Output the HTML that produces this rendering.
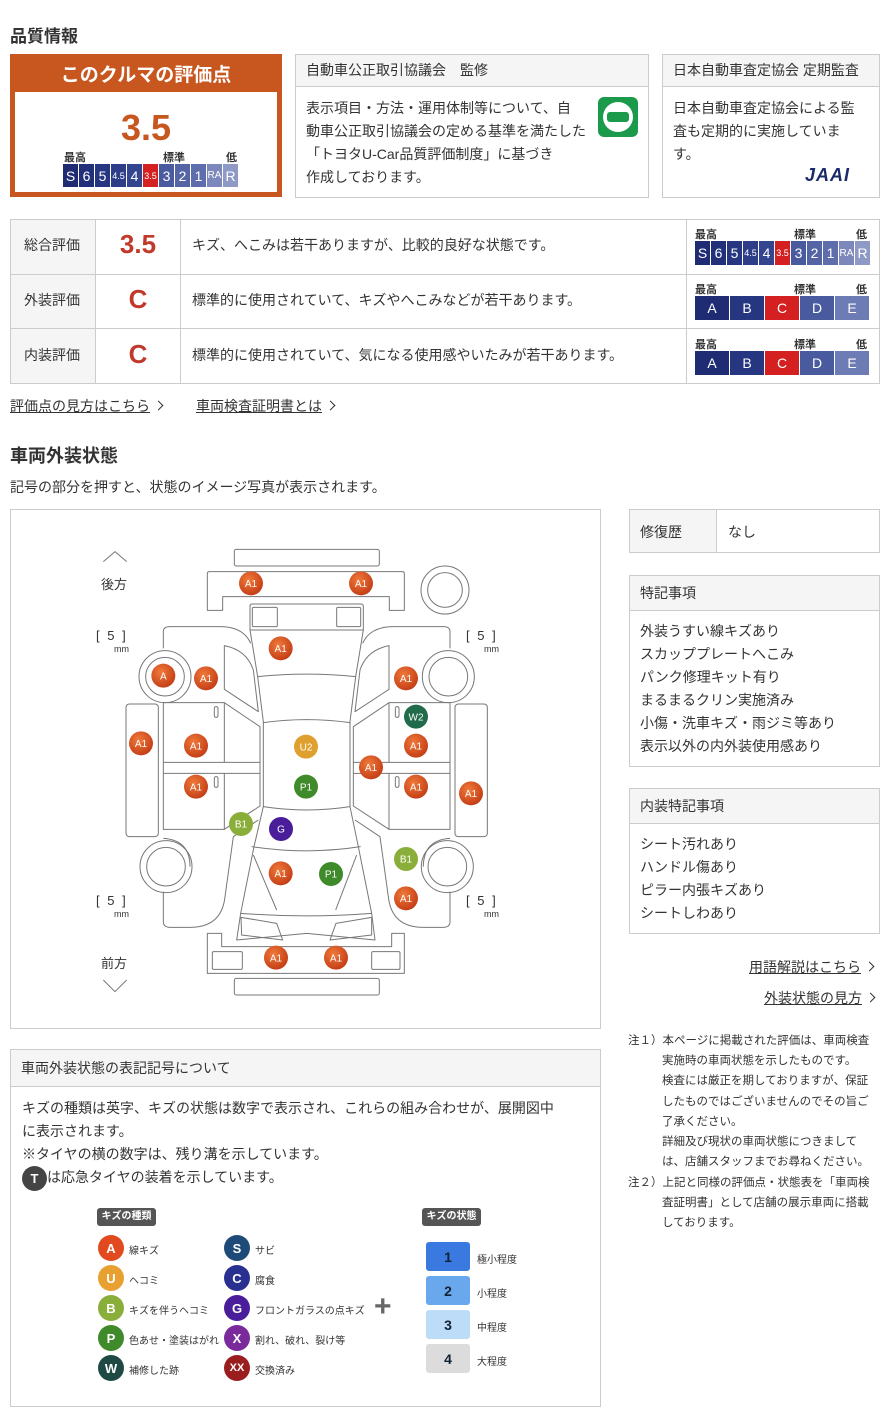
<!DOCTYPE html>
<html><head><meta charset="utf-8"><style>
*{margin:0;padding:0;box-sizing:border-box}
body{width:890px;height:1425px;background:#fff;font-family:"Liberation Sans","Noto Sans CJK JP",sans-serif;color:#333;position:relative;overflow:hidden}
.a{position:absolute}
.t{font-size:14px;line-height:23px}
.bx{position:absolute;border:1px solid #ccc;background:#fff}
.hd{background:#f5f5f5;border-bottom:1px solid #ccc;font-size:14px;padding-left:10px}
.bar{position:absolute;display:flex;gap:1px}
.bar span{display:flex;align-items:center;justify-content:center;color:#fff;font-size:14px;height:100%}
.lbl{position:absolute;font-size:11px;font-weight:bold;color:#333}
.lk{position:absolute;font-size:14px;text-decoration:underline;color:#333}
.lk:after{content:"";display:inline-block;width:6px;height:6px;border-right:1px solid #333;border-top:1px solid #333;transform:rotate(45deg);margin-left:5px;margin-bottom:2px}
.row{position:absolute;left:10px;width:870px;border-bottom:1px solid #ccc}
.mk circle{stroke:none}
.mk text{font-size:30px;fill:#fff;text-anchor:middle;font-family:"Liberation Sans",sans-serif}
.ic{position:absolute;width:26px;height:26px;border-radius:50%;color:#fff;font-weight:bold;font-size:13px;display:flex;align-items:center;justify-content:center}
.il{position:absolute;font-size:10px}
.sb{position:absolute;width:44px;height:29px;border-radius:3px;display:flex;align-items:center;justify-content:center;font-weight:bold;font-size:14px}
.note{font-size:11.5px;line-height:20.3px;white-space:nowrap}
</style></head><body>

<div class="a" style="left:10px;top:22px;font-size:17px;font-weight:bold">品質情報</div>

<div class="a" style="left:10px;top:54px;width:272px;height:143px;background:#c8561f"></div>
<div class="a" style="left:10px;top:60px;width:272px;text-align:center;color:#fff;font-size:19px;font-weight:bold">このクルマの評価点</div>
<div class="a" style="left:15px;top:92px;width:262px;height:100px;background:#fff"></div>
<div class="a" style="left:10px;top:106px;width:272px;text-align:center;color:#c8561f;font-size:36px;font-weight:bold;line-height:44px">3.5</div>
<div class="lbl" style="left:64px;top:149px">最高</div>
<div class="lbl" style="left:163px;top:149px">標準</div>
<div class="lbl" style="left:226px;top:149px">低</div>
<div class="bar" style="left:63px;top:164px;height:23px">
<span style="width:15px;background:#1f2c74">S</span><span style="width:15px;background:#22307a">6</span><span style="width:15px;background:#263680">5</span><span style="width:15px;background:#2d3d88;font-size:9px">4.5</span><span style="width:15px;background:#34458f">4</span><span style="width:15px;background:#d42020;font-size:9px">3.5</span><span style="width:15px;background:#4a5a9e">3</span><span style="width:15px;background:#5464a5">2</span><span style="width:15px;background:#5e6ead">1</span><span style="width:15px;background:#7c88bc;font-size:10px">RA</span><span style="width:15px;background:#8e99c6">R</span></div>

<div class="bx" style="left:295px;top:54px;width:354px;height:144px">
<div class="hd" style="height:32px;line-height:31px">自動車公正取引協議会　監修</div>
<div class="t" style="position:absolute;left:10px;top:42px;white-space:nowrap">表示項目・方法・運用体制等について、自<br>動車公正取引協議会の定める基準を満たした<br>「トヨタU-Car品質評価制度」に基づき<br>作成しております。</div>
<div class="a" style="left:302px;top:42px;width:40px;height:40px;border-radius:6px;background:#1a9a4a"><div style="position:absolute;left:5px;top:5px;width:30px;height:30px;border-radius:50%;background:#fff"></div><div style="position:absolute;left:9px;top:15px;width:22px;height:10px;background:#1a9a4a;border-radius:3px"></div></div>
</div>

<div class="bx" style="left:662px;top:54px;width:218px;height:144px">
<div class="hd" style="height:32px;line-height:31px">日本自動車査定協会 定期監査</div>
<div class="t" style="position:absolute;left:10px;top:42px;white-space:nowrap">日本自動車査定協会による監<br>査も定期的に実施していま<br>す。</div>
<div class="a" style="left:142px;top:110px;font-size:18px;font-weight:bold;font-style:italic;color:#1a2a6a;letter-spacing:1px">JAAI</div>
</div>

<div class="a" style="left:10px;top:219px;width:870px;height:165px;border:1px solid #ccc"></div>
<div class="a" style="left:11px;top:220px;width:84px;height:163px;background:#f5f5f5"></div>
<div class="row" style="top:274px"></div><div class="row" style="top:328px"></div>
<div class="a" style="left:95px;top:219px;width:1px;height:165px;background:#ccc"></div>
<div class="a" style="left:180px;top:219px;width:1px;height:165px;background:#ccc"></div>
<div class="a" style="left:686px;top:219px;width:1px;height:165px;background:#ccc"></div>

<div class="a" style="left:24px;top:235px;font-size:14px">総合評価</div>
<div class="a" style="left:24px;top:290px;font-size:14px">外装評価</div>
<div class="a" style="left:24px;top:345px;font-size:14px">内装評価</div>
<div class="a" style="left:96px;top:229px;width:84px;text-align:center;font-size:26px;font-weight:bold;color:#c0392b">3.5</div>
<div class="a" style="left:96px;top:284px;width:84px;text-align:center;font-size:26px;font-weight:bold;color:#c0392b">C</div>
<div class="a" style="left:96px;top:339px;width:84px;text-align:center;font-size:26px;font-weight:bold;color:#c0392b">C</div>
<div class="a" style="left:192px;top:235px;font-size:14px">キズ、へこみは若干ありますが、比較的良好な状態です。</div>
<div class="a" style="left:192px;top:290px;font-size:14px">標準的に使用されていて、キズやへこみなどが若干あります。</div>
<div class="a" style="left:192px;top:345px;font-size:14px">標準的に使用されていて、気になる使用感やいたみが若干あります。</div>

<div class="lbl" style="left:695px;top:226px">最高</div><div class="lbl" style="left:794px;top:226px">標準</div><div class="lbl" style="left:856px;top:226px">低</div>
<div class="bar" style="left:695px;top:241px;height:24px">
<span style="width:15px;background:#1f2c74">S</span><span style="width:15px;background:#22307a">6</span><span style="width:15px;background:#263680">5</span><span style="width:15px;background:#2d3d88;font-size:9px">4.5</span><span style="width:15px;background:#34458f">4</span><span style="width:15px;background:#d42020;font-size:9px">3.5</span><span style="width:15px;background:#4a5a9e">3</span><span style="width:15px;background:#5464a5">2</span><span style="width:15px;background:#5e6ead">1</span><span style="width:15px;background:#7c88bc;font-size:10px">RA</span><span style="width:15px;background:#8e99c6">R</span></div>
<div class="lbl" style="left:695px;top:281px">最高</div><div class="lbl" style="left:794px;top:281px">標準</div><div class="lbl" style="left:856px;top:281px">低</div>
<div class="bar" style="left:695px;top:296px;height:24px">
<span style="width:34px;background:#1f2c74">A</span><span style="width:34px;background:#263680">B</span><span style="width:34px;background:#d42020">C</span><span style="width:34px;background:#4a5a9e">D</span><span style="width:34px;background:#6e7cb5">E</span></div>
<div class="lbl" style="left:695px;top:336px">最高</div><div class="lbl" style="left:794px;top:336px">標準</div><div class="lbl" style="left:856px;top:336px">低</div>
<div class="bar" style="left:695px;top:351px;height:24px">
<span style="width:34px;background:#1f2c74">A</span><span style="width:34px;background:#263680">B</span><span style="width:34px;background:#d42020">C</span><span style="width:34px;background:#4a5a9e">D</span><span style="width:34px;background:#6e7cb5">E</span></div>

<div class="lk" style="left:10px;top:396px">評価点の見方はこちら</div>
<div class="lk" style="left:196px;top:396px">車両検査証明書とは</div>

<div class="a" style="left:10px;top:442px;font-size:18px;font-weight:bold">車両外装状態</div>
<div class="a" style="left:10px;top:477px;font-size:14px">記号の部分を押すと、状態のイメージ写真が表示されます。</div>

<div class="bx" style="left:10px;top:509px;width:591px;height:520px"></div>
<svg class="a" style="left:90px;top:530px" width="420" height="480" viewBox="0 0 1260 1440">
<g fill="none" stroke="#777" stroke-width="3" stroke-linejoin="round">
<polyline points="40,95 75,65 110,95"/>
<polyline points="40,1350 75,1385 110,1350"/>
<rect x="433" y="58" width="435" height="50" rx="6"/>
<path d="M358,125 H937 Q943,125 943,131 V241 H898 V200 H398 V241 H352 V131 Q352,125 358,125Z"/>
<circle cx="1065" cy="180" r="72"/><circle cx="1065" cy="180" r="52"/>
<path d="M358,1210 H395 V1250 H905 V1210 H943 V1330 H352 V1210Z"/>
<rect x="367" y="1265" width="90" height="53" rx="4"/><rect x="845" y="1265" width="85" height="53" rx="4"/>
<rect x="433" y="1345" width="435" height="50" rx="6"/>
<path d="M485,222 H813 Q820,222 820,230 V300 L797,440 L780,575 V830 L805,950 L845,1150 L855,1230 L650,1210 L440,1230 L452,1150 L492,950 L520,830 V575 L503,440 L480,300 V230 Q480,222 485,222Z"/>
<rect x="487" y="232" width="75" height="58" rx="4"/><rect x="740" y="232" width="72" height="58" rx="4"/>
<line x1="480" y1="300" x2="820" y2="300"/>
<path d="M503,440 Q650,425 797,440"/>
<path d="M520,578 Q650,560 780,578"/>
<path d="M520,830 Q650,850 780,830"/>
<path d="M485,950 Q650,975 812,950"/>
<path d="M452,1150 Q650,1165 845,1150"/>
<line x1="490" y1="975" x2="560" y2="1140"/><line x1="800" y1="975" x2="737" y2="1140"/>
<path d="M453,1162 L560,1180 L578,1230 L455,1215Z"/>
<path d="M845,1162 L738,1180 L720,1230 L845,1215Z"/>
<g id="side">
<path d="M220,355 V305 Q220,290 240,290 H390 Q460,290 482,340"/>
<circle cx="225" cy="440" r="78"/><circle cx="225" cy="440" r="58"/>
<path d="M403,347 Q470,360 490,420 L505,545 L403,478Z"/>
<path d="M220,518 H403 L510,590 V828 L403,898 H220Z"/>
<path d="M220,697 H510 M220,730 H510 M403,518 V697 M403,730 V898"/>
<rect x="373" y="530" width="11" height="32" rx="5"/><rect x="373" y="740" width="11" height="32" rx="5"/>
<rect x="108" y="522" width="97" height="398" rx="10"/>
<circle cx="228" cy="1010" r="78"/><circle cx="228" cy="1010" r="58"/>
<path d="M220,925 Q300,930 300,1010 M220,1085 V1175 Q220,1192 240,1192 H300 Q395,1192 405,1100 L430,920 L505,870"/>
</g>
<use href="#side" transform="translate(1300,0) scale(-1,1)"/>
</g>
<g class="mk">
<defs>
<radialGradient id="ga" cx=".4" cy=".35" r=".7"><stop offset="0" stop-color="#f07a3a"/><stop offset="1" stop-color="#c23a14"/></radialGradient>
</defs>
<g fill="url(#ga)">
<circle cx="483" cy="160" r="36"/><circle cx="813" cy="160" r="36"/><circle cx="572" cy="355" r="36"/><circle cx="220" cy="437" r="36"/><circle cx="348" cy="445" r="36"/><circle cx="948" cy="445" r="36"/><circle cx="153" cy="640" r="36"/><circle cx="318" cy="647" r="36"/><circle cx="978" cy="647" r="36"/><circle cx="843" cy="712" r="36"/><circle cx="318" cy="770" r="36"/><circle cx="978" cy="770" r="36"/><circle cx="1143" cy="790" r="36"/><circle cx="572" cy="1030" r="36"/><circle cx="948" cy="1105" r="36"/><circle cx="558" cy="1283" r="36"/><circle cx="738" cy="1283" r="36"/>
</g>
<circle cx="978" cy="560" r="36" fill="#1f6b4a"/><circle cx="648" cy="650" r="36" fill="#e0a030"/><circle cx="648" cy="770" r="36" fill="#3f8a2a"/><circle cx="453" cy="882" r="36" fill="#8aae3a"/><circle cx="573" cy="897" r="36" fill="#4a1e9a"/><circle cx="948" cy="987" r="36" fill="#8aae3a"/><circle cx="723" cy="1032" r="36" fill="#3f8a2a"/>
<text x="483" y="171">A1</text><text x="813" y="171">A1</text><text x="572" y="366">A1</text><text x="220" y="448">A</text><text x="348" y="456">A1</text><text x="948" y="456">A1</text><text x="978" y="571">W2</text><text x="153" y="651">A1</text><text x="318" y="658">A1</text><text x="648" y="661">U2</text><text x="978" y="658">A1</text><text x="843" y="723">A1</text><text x="318" y="781">A1</text><text x="648" y="781">P1</text><text x="978" y="781">A1</text><text x="1143" y="801">A1</text><text x="453" y="893">B1</text><text x="573" y="908">G</text><text x="948" y="998">B1</text><text x="572" y="1041">A1</text><text x="723" y="1043">P1</text><text x="948" y="1116">A1</text><text x="558" y="1294">A1</text><text x="738" y="1294">A1</text>
</g>
</svg>
<div class="a" style="left:101px;top:574px;font-size:13px">後方</div>
<div class="a" style="left:101px;top:953px;font-size:13px">前方</div>
<div class="a" style="left:96px;top:628px;font-size:13px;word-spacing:4px">[ 5 ]</div><div class="a" style="left:114px;top:644px;font-size:9px">mm</div>
<div class="a" style="left:466px;top:628px;font-size:13px;word-spacing:4px">[ 5 ]</div><div class="a" style="left:484px;top:644px;font-size:9px">mm</div>
<div class="a" style="left:96px;top:893px;font-size:13px;word-spacing:4px">[ 5 ]</div><div class="a" style="left:114px;top:909px;font-size:9px">mm</div>
<div class="a" style="left:466px;top:893px;font-size:13px;word-spacing:4px">[ 5 ]</div><div class="a" style="left:484px;top:909px;font-size:9px">mm</div>

<div class="bx" style="left:629px;top:509px;width:251px;height:44px"><div style="position:absolute;left:0;top:0;width:87px;height:42px;background:#f5f5f5;border-right:1px solid #ccc"></div><div class="a" style="left:10px;top:12px;font-size:14px">修復歴</div><div class="a" style="left:98px;top:12px;font-size:14px">なし</div></div>
<div class="bx" style="left:629px;top:575px;width:251px;height:192px"><div class="hd" style="height:35px;line-height:34px">特記事項</div><div class="t" style="position:absolute;left:10px;top:44px">外装うすい線キズあり<br>スカッププレートへこみ<br>パンク修理キット有り<br>まるまるクリン実施済み<br>小傷・洗車キズ・雨ジミ等あり<br>表示以外の内外装使用感あり</div></div>
<div class="bx" style="left:629px;top:788px;width:251px;height:146px"><div class="hd" style="height:35px;line-height:34px">内装特記事項</div><div class="t" style="position:absolute;left:10px;top:44px">シート汚れあり<br>ハンドル傷あり<br>ピラー内張キズあり<br>シートしわあり</div></div>
<div class="lk" style="left:749px;top:957px">用語解説はこちら</div>
<div class="lk" style="left:764px;top:988px">外装状態の見方</div>
<div class="a note" style="left:628px;top:1031px">注１）本ページに掲載された評価は、車両検査</div>
<div class="a note" style="left:662px;top:1051px">実施時の車両状態を示したものです。<br>検査には厳正を期しておりますが、保証<br>したものではございませんのでその旨ご<br>了承ください。<br>詳細及び現状の車両状態につきまして<br>は、店舗スタッフまでお尋ねください。</div>
<div class="a note" style="left:628px;top:1173px">注２）上記と同様の評価点・状態表を「車両検</div>
<div class="a note" style="left:662px;top:1193px">査証明書」として店舗の展示車両に搭載<br>しております。</div>

<div class="bx" style="left:10px;top:1049px;width:591px;height:358px">
<div class="hd" style="height:37px;line-height:36px">車両外装状態の表記記号について</div>
<div class="t" style="position:absolute;left:11px;top:47px;white-space:nowrap">キズの種類は英字、キズの状態は数字で表示され、これらの組み合わせが、展開図中<br>に表示されます。<br>※タイヤの横の数字は、残り溝を示しています。<br><span style="display:inline-block;width:25px;height:25px;border-radius:50%;background:#444;color:#fff;text-align:center;line-height:25px;font-weight:bold;font-size:13px;vertical-align:middle">T</span>は応急タイヤの装着を示しています。</div>
</div>
<div class="a" style="left:97px;top:1208px;width:59px;height:18px;background:#555;border-radius:3px;color:#fff;font-size:10px;font-weight:bold;text-align:center;line-height:18px">キズの種類</div>
<div class="a" style="left:422px;top:1208px;width:59px;height:18px;background:#555;border-radius:3px;color:#fff;font-size:10px;font-weight:bold;text-align:center;line-height:18px">キズの状態</div>
<div class="ic" style="left:98px;top:1235px;background:#e04a1e">A</div><div class="il" style="left:129px;top:1242px">線キズ</div>
<div class="ic" style="left:98px;top:1265px;background:#e8a030">U</div><div class="il" style="left:129px;top:1272px">ヘコミ</div>
<div class="ic" style="left:98px;top:1295px;background:#8aae3a">B</div><div class="il" style="left:129px;top:1302px">キズを伴うヘコミ</div>
<div class="ic" style="left:98px;top:1325px;background:#3f8a2a">P</div><div class="il" style="left:129px;top:1332px">色あせ・塗装はがれ</div>
<div class="ic" style="left:98px;top:1355px;background:#1f4a44">W</div><div class="il" style="left:129px;top:1362px">補修した跡</div>
<div class="ic" style="left:224px;top:1235px;background:#1e4a78">S</div><div class="il" style="left:255px;top:1242px">サビ</div>
<div class="ic" style="left:224px;top:1265px;background:#2a3090">C</div><div class="il" style="left:255px;top:1272px">腐食</div>
<div class="ic" style="left:224px;top:1295px;background:#4a1e9a">G</div><div class="il" style="left:255px;top:1302px">フロントガラスの点キズ</div>
<div class="ic" style="left:224px;top:1325px;background:#7a2a9a">X</div><div class="il" style="left:255px;top:1332px">割れ、破れ、裂け等</div>
<div class="ic" style="left:224px;top:1355px;background:#9a1e1e;font-size:11px">XX</div><div class="il" style="left:255px;top:1362px">交換済み</div>
<div class="a" style="left:374px;top:1290px;font-size:30px;font-weight:bold;color:#666">+</div>
<div class="sb" style="left:426px;top:1242px;background:#3a7ae0;color:#123">1</div><div class="il" style="left:477px;top:1251px">極小程度</div>
<div class="sb" style="left:426px;top:1276px;background:#6aa8ee;color:#123">2</div><div class="il" style="left:477px;top:1285px">小程度</div>
<div class="sb" style="left:426px;top:1310px;background:#bcdcf8;color:#123">3</div><div class="il" style="left:477px;top:1319px">中程度</div>
<div class="sb" style="left:426px;top:1344px;background:#dcdcdc;color:#123">4</div><div class="il" style="left:477px;top:1353px">大程度</div>
</body></html>
